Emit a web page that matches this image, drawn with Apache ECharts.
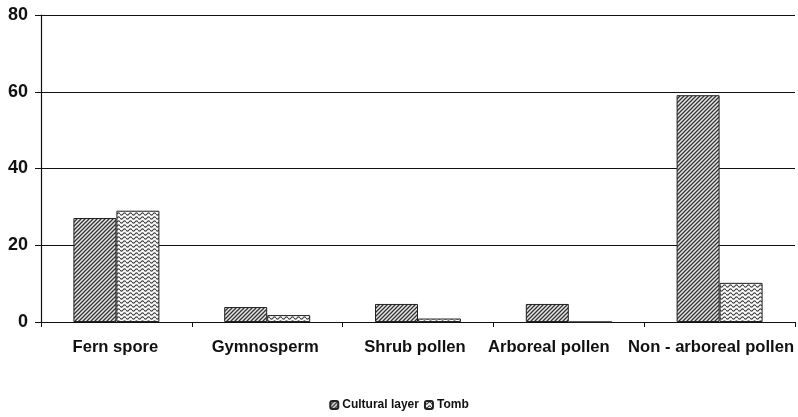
<!DOCTYPE html>
<html><head><meta charset="utf-8">
<script src="https://cdn.jsdelivr.net/npm/echarts@6/dist/echarts.min.js"></script>
<style>html,body{margin:0;padding:0;background:#fff}#c{width:798px;height:417px}</style>
</head><body><div id="c"></div>
<script>
const categories = ['Fern spore','Gymnosperm','Shrub pollen','Arboreal pollen','Non - arboreal pollen'];
const culturalLayer = [27.1, 3.9, 4.7, 4.7, 59.1];
const tomb = [29.0, 1.8, 0.9, 0, 10.2];
const yTicks = [0, 20, 40, 60, 80];

function diagPattern(){
  const c = document.createElement('canvas'); c.width = 4; c.height = 4;
  const g = c.getContext('2d');
  g.fillStyle = '#e8e8e8'; g.fillRect(0,0,4,4);
  g.strokeStyle = '#333'; g.lineWidth = 1.3;
  g.beginPath();
  g.moveTo(-1,5); g.lineTo(5,-1);
  g.moveTo(-1,1); g.lineTo(1,-1);
  g.moveTo(3,5); g.lineTo(5,3);
  g.stroke();
  return c;
}
function wavePattern(){
  const c = document.createElement('canvas'); c.width = 6; c.height = 4;
  const g = c.getContext('2d');
  g.fillStyle = '#fafafa'; g.fillRect(0,0,6,4);
  g.strokeStyle = '#444'; g.lineWidth = 1.1;
  g.beginPath();
  for (let x = 0; x <= 6; x += 0.5) {
    const y = 2 + 1.1*Math.sin(x/6*2*Math.PI);
    if (x === 0) g.moveTo(x,y); else g.lineTo(x,y);
  }
  g.stroke();
  return c;
}
const p1 = {image: diagPattern(), repeat: 'repeat'};
const p2 = {image: wavePattern(), repeat: 'repeat'};

const chart = echarts.init(document.getElementById('c'));
const txt = {color:'#111', fontFamily:'Liberation Sans, Arial, sans-serif', fontWeight:'bold'};
// label left-shift (style only), mimicking the original's overlap avoidance
const labelShift = [2, 4, 6, 40, 17];
const catData = categories.map((c, i) => ({value: c, textStyle: {padding: [0, labelShift[i], 0, 0]}}));
chart.setOption({
  animation: false,
  backgroundColor: '#fff',
  grid: {left: 41, right: 3, top: 15, bottom: 95, containLabel: false, outerBoundsMode: 'none'},
  legend: {
    bottom: 1, left: 'center', itemWidth: 8, itemHeight: 8, itemGap: 5,
    textStyle: Object.assign({fontSize: 12, padding:[0,0,0,-1]}, txt),
    data: ['Cultural layer','Tomb']
  },
  xAxis: {
    type: 'category', data: catData,
    axisLine: {lineStyle: {color: '#111', width: 1.2}},
    axisTick: {show: true, length: 5, lineStyle: {color:'#111'}},
    axisLabel: Object.assign({fontSize: 16.6, margin: 17, interval: 0, hideOverlap: false}, txt)
  },
  yAxis: {
    type: 'value', min: 0, max: 80, interval: 20,
    axisLine: {show: true, lineStyle: {color: '#111', width: 1.2}},
    axisTick: {show: true, length: 6, lineStyle: {color:'#111'}},
    axisLabel: Object.assign({fontSize: 18, margin: 13,
      formatter: v => yTicks.includes(v) ? String(v) : ''}, txt),
    splitLine: {lineStyle: {color: '#111', width: 1}}
  },
  series: [
    {name: 'Cultural layer', type: 'bar', data: culturalLayer, barWidth: 43, barGap: '0%',
     itemStyle: {color: p1, borderColor: '#222', borderWidth: 1}},
    {name: 'Tomb', type: 'bar', data: tomb, barWidth: 43,
     itemStyle: {color: p2, borderColor: '#222', borderWidth: 1}}
  ]
});
</script></body></html>
